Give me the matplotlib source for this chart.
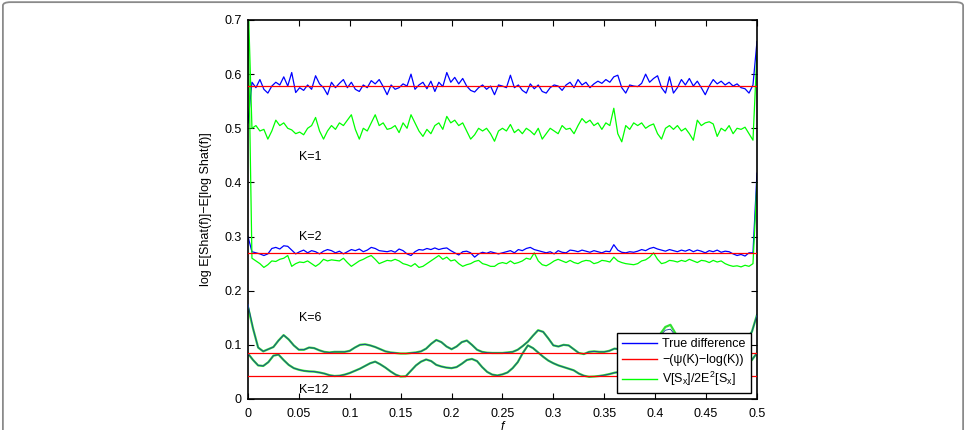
import numpy as np
import matplotlib
matplotlib.use("Agg")
import matplotlib.pyplot as plt
from matplotlib.patches import FancyBboxPatch
from matplotlib.lines import Line2D

plt.rcParams['font.family'] = ['Liberation Sans', 'DejaVu Sans']
plt.rcParams['mathtext.fontset'] = 'custom'
plt.rcParams['mathtext.rm'] = 'Liberation Sans'

# frequency grids
f_fine = np.linspace(0, 0.5, 129)
f_smooth = np.linspace(0, 0.5, 101)

# K = 1
k1_true = [0.51, 0.585, 0.575, 0.59, 0.572, 0.565, 0.578, 0.585, 0.58, 0.595,
           0.578, 0.603, 0.566, 0.575, 0.57, 0.58, 0.572, 0.597, 0.582, 0.575,
           0.562, 0.585, 0.575, 0.583, 0.59, 0.575, 0.585, 0.572, 0.568, 0.58,
           0.575, 0.588, 0.582, 0.59, 0.577, 0.562, 0.58, 0.572, 0.575, 0.582,
           0.578, 0.6, 0.572, 0.58, 0.585, 0.573, 0.587, 0.568, 0.585, 0.577,
           0.603, 0.585, 0.594, 0.582, 0.592, 0.578, 0.57, 0.567, 0.575, 0.58,
           0.572, 0.578, 0.562, 0.58, 0.578, 0.575, 0.598, 0.575, 0.58, 0.57,
           0.565, 0.582, 0.573, 0.58, 0.568, 0.565, 0.575, 0.58, 0.578, 0.57,
           0.58, 0.585, 0.575, 0.59, 0.58, 0.585, 0.575, 0.582, 0.587, 0.583,
           0.59, 0.585, 0.595, 0.598, 0.575, 0.565, 0.58, 0.578, 0.577, 0.583,
           0.6, 0.585, 0.592, 0.597, 0.575, 0.565, 0.595, 0.565, 0.575, 0.59,
           0.58, 0.592, 0.578, 0.587, 0.575, 0.562, 0.578, 0.59, 0.582, 0.587,
           0.58, 0.585, 0.578, 0.582, 0.575, 0.573, 0.565, 0.58, 0.66]
k1_approx = [0.75, 0.50, 0.505, 0.495, 0.498, 0.48, 0.495, 0.515, 0.505, 0.51,
             0.50, 0.497, 0.49, 0.493, 0.488, 0.5, 0.505, 0.52, 0.495, 0.48,
             0.495, 0.505, 0.498, 0.51, 0.505, 0.515, 0.525, 0.498, 0.48, 0.5,
             0.495, 0.51, 0.525, 0.505, 0.51, 0.498, 0.5, 0.505, 0.492, 0.51,
             0.5, 0.525, 0.51, 0.495, 0.485, 0.498, 0.49, 0.505, 0.51, 0.498,
             0.522, 0.51, 0.515, 0.505, 0.51, 0.495, 0.48, 0.488, 0.5, 0.495,
             0.5, 0.49, 0.476, 0.495, 0.5, 0.495, 0.507, 0.492, 0.498, 0.49,
             0.5, 0.495, 0.488, 0.5, 0.48, 0.49, 0.5, 0.495, 0.49, 0.505,
             0.498, 0.5, 0.49, 0.505, 0.518, 0.51, 0.515, 0.505, 0.51, 0.498,
             0.51, 0.505, 0.537, 0.49, 0.475, 0.505, 0.498, 0.51, 0.505, 0.51,
             0.5, 0.505, 0.508, 0.49, 0.48, 0.5, 0.505, 0.498, 0.505, 0.495,
             0.5, 0.49, 0.478, 0.515, 0.505, 0.51, 0.512, 0.508, 0.485, 0.5,
             0.495, 0.505, 0.49, 0.5, 0.498, 0.502, 0.49, 0.478, 0.64]

# K = 2
k2_true = [0.30, 0.272, 0.27, 0.268, 0.265, 0.268, 0.278, 0.28, 0.277, 0.283,
           0.282, 0.275, 0.268, 0.272, 0.275, 0.27, 0.274, 0.272, 0.268, 0.273,
           0.276, 0.274, 0.27, 0.273, 0.268, 0.272, 0.276, 0.274, 0.277, 0.272,
           0.275, 0.28, 0.278, 0.274, 0.273, 0.272, 0.274, 0.271, 0.277, 0.274,
           0.268, 0.265, 0.272, 0.276, 0.275, 0.278, 0.276, 0.279, 0.276, 0.278,
           0.279, 0.274, 0.27, 0.266, 0.272, 0.273, 0.27, 0.262, 0.268, 0.271,
           0.269, 0.272, 0.27, 0.268, 0.27, 0.272, 0.274, 0.27, 0.276, 0.274,
           0.278, 0.28, 0.276, 0.274, 0.272, 0.27, 0.272, 0.268, 0.274, 0.271,
           0.27, 0.275, 0.274, 0.272, 0.275, 0.273, 0.271, 0.274, 0.272, 0.27,
           0.273, 0.272, 0.285, 0.275, 0.271, 0.27, 0.272, 0.271, 0.273, 0.276,
           0.274, 0.278, 0.28, 0.277, 0.275, 0.273, 0.276, 0.274, 0.272, 0.275,
           0.273, 0.276, 0.272, 0.275, 0.273, 0.27, 0.274, 0.272, 0.275, 0.271,
           0.273, 0.272, 0.268, 0.265, 0.267, 0.264, 0.27, 0.27, 0.417]
k2_approx = [0.72, 0.26, 0.255, 0.25, 0.243, 0.248, 0.255, 0.254, 0.258, 0.26,
             0.265, 0.245, 0.25, 0.253, 0.252, 0.255, 0.25, 0.245, 0.25, 0.258,
             0.255, 0.257, 0.256, 0.255, 0.26, 0.252, 0.245, 0.25, 0.255, 0.258,
             0.262, 0.265, 0.258, 0.25, 0.253, 0.256, 0.255, 0.258, 0.255, 0.25,
             0.248, 0.245, 0.25, 0.243, 0.245, 0.25, 0.255, 0.26, 0.265, 0.258,
             0.262, 0.255, 0.257, 0.25, 0.245, 0.248, 0.25, 0.254, 0.256, 0.25,
             0.248, 0.245, 0.245, 0.25, 0.252, 0.25, 0.255, 0.25, 0.252, 0.255,
             0.26, 0.258, 0.27, 0.255, 0.248, 0.246, 0.25, 0.255, 0.258, 0.255,
             0.252, 0.256, 0.252, 0.25, 0.254, 0.256, 0.255, 0.25, 0.252, 0.256,
             0.255, 0.253, 0.262, 0.255, 0.252, 0.25, 0.249, 0.248, 0.25, 0.255,
             0.257, 0.262, 0.27, 0.258, 0.25, 0.252, 0.256, 0.255, 0.253, 0.256,
             0.254, 0.258, 0.255, 0.252, 0.256, 0.255, 0.252, 0.256, 0.253, 0.255,
             0.25, 0.247, 0.245, 0.246, 0.244, 0.247, 0.245, 0.25, 0.40]

# K = 6
k6_true = [0.175, 0.13, 0.095, 0.088, 0.092, 0.096, 0.108, 0.118, 0.11, 0.099,
           0.091, 0.091, 0.095, 0.094, 0.09, 0.087, 0.086, 0.087, 0.087, 0.087,
           0.089, 0.095, 0.1, 0.101, 0.099, 0.096, 0.092, 0.088, 0.086, 0.085,
           0.084, 0.084, 0.085, 0.086, 0.088, 0.093, 0.102, 0.109, 0.105, 0.097,
           0.092, 0.097, 0.105, 0.108, 0.1, 0.091, 0.087, 0.0855, 0.085, 0.085,
           0.085, 0.086, 0.087, 0.091, 0.098, 0.106, 0.117, 0.127, 0.124, 0.112,
           0.099, 0.097, 0.1, 0.099, 0.092, 0.085, 0.083, 0.087, 0.088, 0.087,
           0.087, 0.089, 0.093, 0.092, 0.089, 0.088, 0.088, 0.089, 0.092, 0.097,
           0.105, 0.117, 0.127, 0.129, 0.117, 0.103, 0.094, 0.09, 0.088, 0.087,
           0.088, 0.09, 0.091, 0.09, 0.089, 0.09, 0.095, 0.103, 0.112, 0.124, 0.155]
k6_approx = [0.17, 0.13, 0.095, 0.088, 0.092, 0.096, 0.108, 0.118, 0.11, 0.099,
             0.091, 0.091, 0.095, 0.094, 0.09, 0.087, 0.086, 0.087, 0.087, 0.087,
             0.089, 0.095, 0.1, 0.101, 0.099, 0.096, 0.092, 0.088, 0.086, 0.085,
             0.084, 0.084, 0.085, 0.086, 0.088, 0.093, 0.102, 0.109, 0.105, 0.097,
             0.092, 0.097, 0.105, 0.108, 0.1, 0.091, 0.087, 0.0855, 0.085, 0.085,
             0.085, 0.086, 0.087, 0.091, 0.098, 0.106, 0.117, 0.127, 0.124, 0.112,
             0.099, 0.097, 0.1, 0.099, 0.092, 0.085, 0.083, 0.087, 0.088, 0.087,
             0.087, 0.089, 0.093, 0.092, 0.089, 0.088, 0.088, 0.089, 0.092, 0.097,
             0.105, 0.12, 0.133, 0.137, 0.121, 0.103, 0.094, 0.09, 0.088, 0.087,
             0.088, 0.09, 0.091, 0.09, 0.089, 0.09, 0.095, 0.103, 0.112, 0.124, 0.155]

# K = 12
k12_true = [0.084, 0.072, 0.062, 0.061, 0.068, 0.08, 0.082, 0.072, 0.063, 0.057,
            0.054, 0.052, 0.051, 0.0505, 0.049, 0.047, 0.044, 0.0425, 0.043, 0.045,
            0.048, 0.052, 0.056, 0.061, 0.066, 0.069, 0.064, 0.058, 0.051, 0.045,
            0.0415, 0.042, 0.052, 0.062, 0.069, 0.073, 0.07, 0.063, 0.06, 0.058,
            0.057, 0.059, 0.065, 0.072, 0.074, 0.07, 0.059, 0.05, 0.045, 0.0435,
            0.0455, 0.049, 0.057, 0.068, 0.085, 0.099, 0.094, 0.086, 0.078, 0.071,
            0.066, 0.062, 0.059, 0.056, 0.053, 0.047, 0.043, 0.041, 0.0415, 0.0425,
            0.044, 0.046, 0.0485, 0.05, 0.051, 0.05, 0.049, 0.05, 0.052, 0.055,
            0.058, 0.06, 0.062, 0.06, 0.056, 0.052, 0.05, 0.049, 0.05, 0.052,
            0.054, 0.056, 0.058, 0.059, 0.06, 0.062, 0.063, 0.065, 0.067, 0.072, 0.085]
k12_approx = list(k12_true)

# -(psi(K) - log(K))
const_vals = [0.5772, 0.2704, 0.0857, 0.0422]

labels = ["K=1", "K=2", "K=6", "K=12"]
label_pos = [(0.05, 0.447), (0.05, 0.30), (0.05, 0.15), (0.05, 0.017)]

BLUE = '#0000ff'
RED = '#ff0000'
GREEN = '#00ff00'
FS = 9

fig = plt.figure(figsize=(9.66, 4.30), dpi=100)
ax = fig.add_axes([0.2567, 0.0721, 0.5269, 0.8814])

# noisy K=1, K=2
for t, a in [(k1_true, k1_approx), (k2_true, k2_approx)]:
    ax.plot(f_fine, t, color=BLUE, lw=0.9, zorder=2)
    ax.plot(f_fine, a, color=GREEN, lw=0.9, zorder=2)
# smooth K=6, K=12
for t, a in [(k6_true, k6_approx), (k12_true, k12_approx)]:
    ax.plot(f_smooth, a, color='#33e033', lw=1.6, zorder=2)
    ax.plot(f_smooth, t, color='#1a3a9a', lw=0.6, zorder=3)
for c in const_vals:
    ax.plot([0, 0.5], [c, c], color=RED, lw=0.9, zorder=4)

for lab, (x, y) in zip(labels, label_pos):
    ax.text(x, y, lab, fontsize=FS, ha='left', va='center')

ax.set_xlim(0, 0.5)
ax.set_ylim(0, 0.7)
xt = [0, 0.05, 0.1, 0.15, 0.2, 0.25, 0.3, 0.35, 0.4, 0.45, 0.5]
ax.set_xticks(xt)
ax.set_xticklabels(['0', '0.05', '0.1', '0.15', '0.2', '0.25', '0.3', '0.35', '0.4', '0.45', '0.5'])
yt = [0, 0.1, 0.2, 0.3, 0.4, 0.5, 0.6, 0.7]
ax.set_yticks(yt)
ax.set_yticklabels(['0', '0.1', '0.2', '0.3', '0.4', '0.5', '0.6', '0.7'])
ax.tick_params(direction='in', length=4, width=0.8, top=True, right=True, labelsize=FS)
ax.tick_params(axis='x', pad=6.5)
ax.tick_params(axis='y', pad=4.5)
for s in ax.spines.values():
    s.set_linewidth(1.2)

ax.set_ylabel('log E[Shat(f)]\u2212E[log Shat(f)]', fontsize=FS)
ax.yaxis.set_label_coords(-0.071, 0.5)
ax.set_xlabel('f', fontsize=FS, style='italic')
ax.xaxis.set_label_coords(0.5, -0.058)
ax.xaxis.label.set_va('top')

handles = [Line2D([], [], color=BLUE, lw=1.0),
           Line2D([], [], color=RED, lw=1.0),
           Line2D([], [], color=GREEN, lw=1.0)]
leg_labels = ['True difference', '\u2212(\u03c8(K)\u2212log(K))',
              r'V[S$_\mathregular{x}$]/2E$^\mathregular{2}$[S$_\mathregular{x}$]']
leg = ax.legend(handles, leg_labels, loc='lower right', bbox_to_anchor=(0.988, 0.016),
                borderaxespad=0, fontsize=FS, fancybox=False, edgecolor='black',
                framealpha=1, handlelength=2.8, handletextpad=0.4,
                labelspacing=0.3, borderpad=0.4)
leg.get_frame().set_linewidth(1.0)
leg.set_zorder(10)

border = FancyBboxPatch((0.003, -0.05), 0.994, 1.045,
                        boxstyle='round,pad=0,rounding_size=0.008',
                        transform=fig.transFigure, facecolor='none',
                        edgecolor='#8a8a8a', lw=1.3, clip_on=False)
fig.patches.append(border)

fig.savefig('out.png', dpi=100)
